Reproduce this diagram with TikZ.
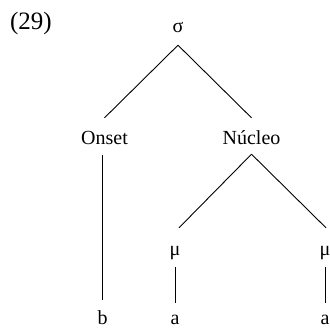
\documentclass[tikz,border=0pt]{standalone}
\usepackage{fontspec}
\setmainfont{Liberation Serif}
\begin{document}
\begin{tikzpicture}[x=1pt,y=-1pt,
  lbl/.style={anchor=base, inner sep=0pt, text height=14pt, text depth=0pt, font=\fontsize{20}{24}\selectfont},
  edge/.style={line width=0.9pt}]
\useasboundingbox (0,0) rectangle (330,329);
\node[lbl, font=\fontsize{25}{30}\selectfont] (num) at (31,30) {(29)};
\node[lbl] (sigma) at (178,33) {σ};
\node[lbl] (onset) at (104.5,145) {Onset};
\node[lbl] (nucleo) at (251.5,145) {Núcleo};
\node[lbl] (mu1) at (175,255) {μ};
\node[lbl] (mu2) at (325,255) {μ};
\node[lbl] (b) at (102.5,324) {b};
\node[lbl] (a1) at (175,324) {a};
\node[lbl] (a2) at (325,324) {a};
\draw[edge] ([yshift=-12pt]sigma.south) -- ([yshift=13pt]onset.north);
\draw[edge] ([yshift=-12pt]sigma.south) -- ([yshift=13pt]nucleo.north);
\draw[edge] ([xshift=-2.3pt,yshift=-10pt]onset.south) -- ([xshift=-0.3pt,yshift=10pt]b.north);
\draw[edge] ([yshift=-9pt]nucleo.south) -- ([xshift=4pt,yshift=13pt]mu1.north);
\draw[edge] ([yshift=-9pt]nucleo.south) -- ([xshift=1pt,yshift=13pt]mu2.north);
\draw[edge] ([yshift=-12pt]mu1.south) -- ([yshift=7pt]a1.north);
\draw[edge] ([yshift=-12pt]mu2.south) -- ([yshift=7pt]a2.north);
\end{tikzpicture}
\end{document}
